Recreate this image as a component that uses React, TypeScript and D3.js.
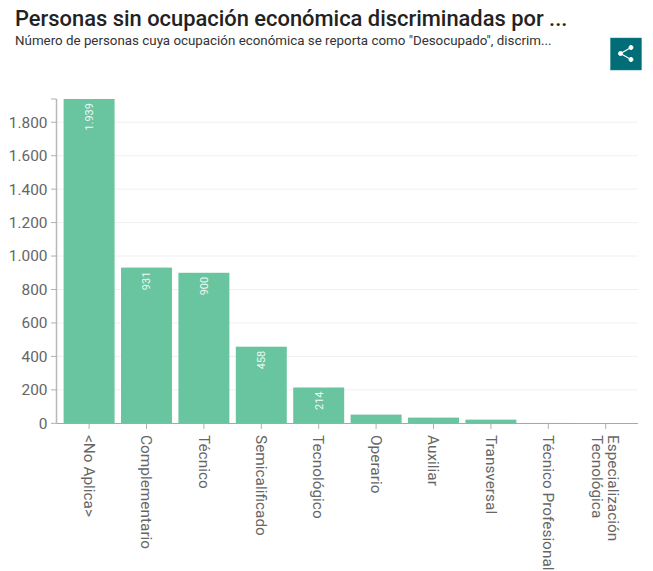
import React from "react";
import * as d3 from "d3";

const categories = ["<No Aplica>", "Complementario", "Técnico", "Semicalificado", "Tecnológico", "Operario", "Auxiliar", "Transversal", "Técnico Profesional", "Especialización Tecnológica"];
const values = [1939, 931, 900, 458, 214, 52, 34, 22, 2, 1];
const labelled = [true, true, true, true, true, false, false, false, false, false];
const yTicks = [0, 200, 400, 600, 800, 1000, 1200, 1400, 1600, 1800];
const title = "Personas sin ocupación económica discriminadas por ...";
const subtitle = "Número de personas cuya ocupación económica se reporta como \"Desocupado\", discrim...";
const catLines: Record<string, string[]> = { "Especialización Tecnológica": ["Tecnológica", "Especialización"] };

const fmt = (v: number) => String(v).replace(/\B(?=(\d{3})+$)/g, ".");

export default function App() {
  const x = d3.scaleBand<string>().domain(categories).range([60.4, 634.4]).paddingInner(0.112).paddingOuter(0.056);
  const y = d3.scaleLinear().domain([0, 1939]).range([423.3, 99]);
  const font = "Roboto, sans-serif";
  return (
    <svg width={653} height={571} style={{ position: "fixed", left: 0, top: 0, background: "#fff" }} fontFamily={font}>
      <text x={15} y={26} fontSize={21.9} fontWeight={500} fill="#222">{title}</text>
      <text x={15} y={45} fontSize={13.35} fill="#333">{subtitle}</text>
      <rect x={610.5} y={38} width={31} height={32} fill="#006d77" stroke="#2a8a92" strokeWidth={0.5} />
      <g fill="#fff" stroke="#fff">
        <line x1={620.5} y1={53.5} x2={631} y2={47.5} strokeWidth={1.3} />
        <line x1={620.5} y1={53.5} x2={631} y2={59.5} strokeWidth={1.3} />
        <circle cx={620.5} cy={53.5} r={2} />
        <circle cx={631} cy={47.5} r={2} />
        <circle cx={631} cy={59.5} r={2} />
      </g>
      {yTicks.filter(t => t > 0).map(t => (
        <line key={t} x1={56.5} x2={638} y1={y(t)} y2={y(t)} stroke="#f0f0f0" />
      ))}
      {categories.map((c, i) => (
        <rect key={c} x={x(c)} y={y(values[i])} width={x.bandwidth()} height={y(0) - y(values[i])} fill="#69c5a0" />
      ))}
      {categories.map((c, i) => labelled[i] ? (
        <text key={c} transform={`translate(${x(c)! + x.bandwidth() / 2},${y(values[i]) + 4}) rotate(-90)`} fontSize={11} fill="#fff" dy="0.35em" textAnchor="end" opacity={0.9}>{fmt(values[i])}</text>
      ) : null)}
      <line x1={56.5} x2={56.5} y1={99} y2={423.5} stroke="#b8b8b8" strokeWidth={1.5} />
      <line x1={51} x2={56.5} y1={99} y2={99} stroke="#b0b0b0" />
      <line x1={56.5} x2={638} y1={423.5} y2={423.5} stroke="#a8a8a8" />
      {yTicks.map(t => (
        <g key={t}>
          <line x1={51} x2={56.5} y1={y(t)} y2={y(t)} stroke="#b0b0b0" />
          <text x={47.5} y={y(t)} dy="0.35em" textAnchor="end" fontSize={15.4} fill="#666">{fmt(t)}</text>
        </g>
      ))}
      {categories.map(c => {
        const cx = x(c)! + x.bandwidth() / 2;
        const lines = catLines[c] ?? [c];
        return (
          <g key={c}>
            <line x1={cx} x2={cx} y1={423.5} y2={429} stroke="#b0b0b0" />
            {lines.map((l, j) => (
              <text key={l} transform={`translate(${cx + (j - (lines.length - 1) / 2) * 16},435) rotate(90)`} dy="0.35em" fontSize={15.4} fill="#666">{l}</text>
            ))}
          </g>
        );
      })}
    </svg>
  );
}
